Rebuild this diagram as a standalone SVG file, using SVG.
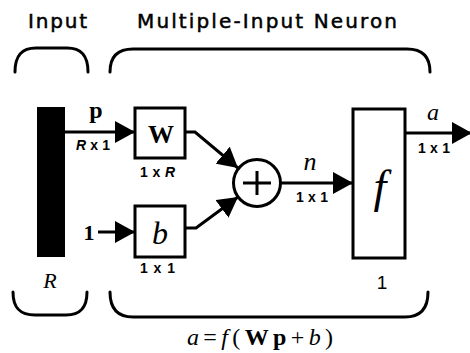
<svg xmlns="http://www.w3.org/2000/svg" width="470" height="353" viewBox="0 0 470 353">
<style>
.hd{font-family:"DejaVu Sans","Liberation Sans",Arial,sans-serif;font-size:20px;fill:#000;stroke:#000;stroke-width:0.5}
.dim{font-family:"Liberation Sans",Arial,sans-serif;font-size:14px;font-weight:bold;fill:#000}
.ser{font-family:"Liberation Serif","Times New Roman",serif;fill:#000}
.it{font-style:italic}
.bd{font-weight:bold}
.br{fill:none;stroke:#000;stroke-width:3;stroke-linecap:round}
.box{fill:#fff;stroke:#000;stroke-width:3}
.ln{fill:none;stroke:#000;stroke-width:3;marker-end:url(#ah)}
</style>
<defs>
<marker id="ah" markerUnits="userSpaceOnUse" markerWidth="20" markerHeight="22" refX="20" refY="11" orient="auto" viewBox="0 0 20 22">
<path d="M0,0 L20,11 L0,22 z" fill="#000"/>
</marker>
</defs>
<rect width="470" height="353" fill="#fff"/>
<g id="headers">
<text class="hd" x="28" y="28" textLength="59" lengthAdjust="spacing">Input</text>
<text class="hd" x="137" y="28" textLength="260" lengthAdjust="spacing">Multiple-Input Neuron</text>
</g>
<g id="braces">
<path class="br" d="M15,72 C15,55 22,48 36,48 L67,48 C81,48 88,55 88,72"/>
<path class="br" d="M110,72 C110,56 118,49 133,49 L407,49 C422,49 430,56 430,72"/>
<path class="br" d="M13,292 C13,308 20,315 35,315 L66,315 C80,315 87,308 87,292"/>
<path class="br" d="M110,292 C110,309 118,317 133,317 L405,317 C420,317 428,309 428,292"/>
</g>
<g id="connectors">
<path class="ln" d="M65,132 L135,132"/>
<path class="ln" d="M98,232 L135,232"/>
<path class="ln" d="M185,132 L195,132 L238,168"/>
<path class="ln" d="M185,228 L196,228 L238,197"/>
<path class="ln" d="M281,183 L353,183"/>
<path class="ln" d="M405,133 L472,133"/>
</g>
<g id="input">
<rect x="37" y="107" width="28" height="150" fill="#000"/>
<text class="ser it" x="50" y="288" font-size="22" text-anchor="middle">R</text>
</g>
<g id="labels">
<text class="ser bd" x="96" y="118" font-size="24" text-anchor="middle">p</text>
<text class="dim" x="76" y="150" textLength="34" lengthAdjust="spacing"><tspan font-style="italic">R</tspan>x1</text>
<text class="ser bd" x="89" y="240" font-size="22" text-anchor="middle">1</text>
<text class="ser it" x="310" y="170" font-size="26" text-anchor="middle">n</text>
<text class="dim" x="296" y="202" textLength="32" lengthAdjust="spacing">1x1</text>
<text class="ser it" x="433" y="120" font-size="24" text-anchor="middle">a</text>
<text class="dim" x="418" y="153" textLength="32" lengthAdjust="spacing">1x1</text>
</g>
<g id="W">
<rect class="box" x="135" y="108" width="50" height="50"/>
<text class="ser bd" x="161" y="143" font-size="26" text-anchor="middle">W</text>
<text class="dim" x="140" y="177" textLength="35" lengthAdjust="spacing">1x<tspan font-style="italic">R</tspan></text>
</g>
<g id="b">
<rect class="box" x="135" y="206" width="50" height="51"/>
<text class="ser it" x="160" y="244" font-size="32" text-anchor="middle">b</text>
<text class="dim" x="140" y="273" textLength="35" lengthAdjust="spacing">1x1</text>
</g>
<g id="sum">
<circle cx="257" cy="183" r="23.5" fill="#fff" stroke="#000" stroke-width="3"/>
<path d="M243,183 L271,183 M257,171 L257,195" stroke="#000" stroke-width="3"/>
</g>
<g id="f">
<rect class="box" x="353" y="109" width="52" height="149"/>
<text class="ser it" x="380" y="202" font-size="46" text-anchor="middle">f</text>
<text x="382" y="289" font-family="Liberation Sans, Arial, sans-serif" font-size="19" text-anchor="middle" fill="#000">1</text>
</g>
<g id="equation">
<text class="ser" x="187" y="345" font-size="24" textLength="146" lengthAdjust="spacing"><tspan font-style="italic">a</tspan>=<tspan font-style="italic">f</tspan>(<tspan font-weight="bold">Wp</tspan>+<tspan font-style="italic">b</tspan>)</text>
</g>
</svg>
